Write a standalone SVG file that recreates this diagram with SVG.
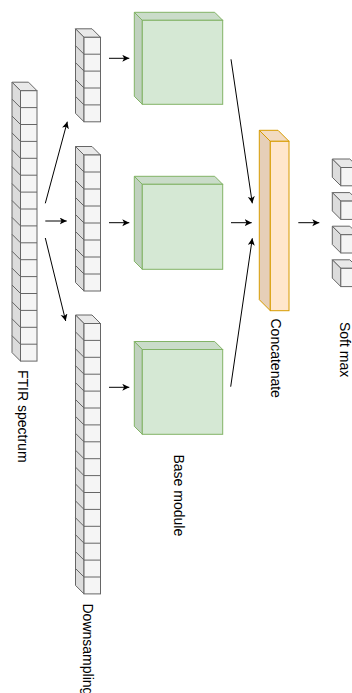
<svg xmlns="http://www.w3.org/2000/svg" width="352" height="693" viewBox="0 0 352 693">
<style>
.gf{fill:#f5f5f5;stroke:#666666;stroke-width:1}
.gt{fill:#e9e9e9;stroke:#666666;stroke-width:1;stroke-linejoin:round}
.gs{fill:#dcdcdc;stroke:#666666;stroke-width:1;stroke-linejoin:round}
.gl{fill:none;stroke:#666666;stroke-width:1}
.nf{fill:#d5e8d4;stroke:#82b366;stroke-width:1}
.nt{fill:#cadcc9;stroke:#82b366;stroke-width:1;stroke-linejoin:round}
.ns{fill:#c0d1bf;stroke:#82b366;stroke-width:1;stroke-linejoin:round}
.of{fill:#ffe6cc;stroke:#d79b00;stroke-width:1}
.ot{fill:#f2dbc2;stroke:#d79b00;stroke-width:1;stroke-linejoin:round}
.os{fill:#e6cfb8;stroke:#d79b00;stroke-width:1;stroke-linejoin:round}
.lbl{font-family:"Liberation Sans",Arial,Helvetica,sans-serif;font-size:14px;fill:#000000}
.edge{fill:none;stroke:#000000;stroke-width:1;marker-end:url(#arr)}
</style>
<defs>
<marker id="arr" markerUnits="userSpaceOnUse" markerWidth="8" markerHeight="8" refX="7" refY="3.5" orient="auto" viewBox="0 0 8 8">
<path d="M0,0 L7,3.5 L0,7 L1.8,3.5 z" fill="#000000" stroke="none"/>
</marker>
</defs>

<g id="ftir">
<polygon class="gt" points="12,82.2 28.5,82.2 37,90.7 20.5,90.7"/>
<polygon class="gs" points="12,82.2 20.5,90.7 20.5,361.1 12,352.6"/>
<rect class="gf" x="20.5" y="90.7" width="16.5" height="270.4"/>
<path class="gl" d="M20.5,107.6h16.5M20.5,124.5h16.5M20.5,141.4h16.5M20.5,158.3h16.5M20.5,175.2h16.5M20.5,192.1h16.5M20.5,209h16.5M20.5,225.9h16.5M20.5,242.8h16.5M20.5,259.7h16.5M20.5,276.6h16.5M20.5,293.5h16.5M20.5,310.4h16.5M20.5,327.3h16.5M20.5,344.2h16.5"/>
<path class="gl" d="M12,99.1l8.5,8.5M12,116l8.5,8.5M12,132.9l8.5,8.5M12,149.8l8.5,8.5M12,166.7l8.5,8.5M12,183.6l8.5,8.5M12,200.5l8.5,8.5M12,217.4l8.5,8.5M12,234.3l8.5,8.5M12,251.2l8.5,8.5M12,268.1l8.5,8.5M12,285l8.5,8.5M12,301.9l8.5,8.5M12,318.8l8.5,8.5M12,335.7l8.5,8.5"/>
<text class="lbl" transform="translate(18.3,370) rotate(90)">FTIR spectrum</text>
</g>

<g id="col1">
<polygon class="gt" points="75.5,28.8 92,28.8 100.5,37.3 84,37.3"/>
<polygon class="gs" points="75.5,28.8 84,37.3 84,121.8 75.5,113.3"/>
<rect class="gf" x="84" y="37.3" width="16.5" height="84.5"/>
<path class="gl" d="M84,54.2h16.5M84,71.1h16.5M84,88h16.5M84,104.9h16.5"/>
<path class="gl" d="M75.5,45.7l8.5,8.5M75.5,62.6l8.5,8.5M75.5,79.5l8.5,8.5M75.5,96.4l8.5,8.5"/>
</g>

<g id="col2">
<polygon class="gt" points="75.5,146.5 92,146.5 100.5,155 84,155"/>
<polygon class="gs" points="75.5,146.5 84,155 84,291 75.5,282.5"/>
<rect class="gf" x="84" y="155" width="16.5" height="136"/>
<path class="gl" d="M84,172h16.5M84,189h16.5M84,206h16.5M84,223h16.5M84,240h16.5M84,257h16.5M84,274h16.5"/>
<path class="gl" d="M75.5,163.5l8.5,8.5M75.5,180.5l8.5,8.5M75.5,197.5l8.5,8.5M75.5,214.5l8.5,8.5M75.5,231.5l8.5,8.5M75.5,248.5l8.5,8.5M75.5,265.5l8.5,8.5"/>
</g>

<g id="col3">
<polygon class="gt" points="75.5,315 92,315 100.5,323.5 84,323.5"/>
<polygon class="gs" points="75.5,315 84,323.5 84,593.9 75.5,585.4"/>
<rect class="gf" x="84" y="323.5" width="16.5" height="270.4"/>
<path class="gl" d="M84,340.4h16.5M84,357.3h16.5M84,374.2h16.5M84,391.1h16.5M84,408h16.5M84,424.9h16.5M84,441.8h16.5M84,458.7h16.5M84,475.6h16.5M84,492.5h16.5M84,509.4h16.5M84,526.3h16.5M84,543.2h16.5M84,560.1h16.5M84,577h16.5"/>
<path class="gl" d="M75.5,331.9l8.5,8.5M75.5,348.8l8.5,8.5M75.5,365.7l8.5,8.5M75.5,382.6l8.5,8.5M75.5,399.5l8.5,8.5M75.5,416.4l8.5,8.5M75.5,433.3l8.5,8.5M75.5,450.2l8.5,8.5M75.5,467.1l8.5,8.5M75.5,484l8.5,8.5M75.5,500.9l8.5,8.5M75.5,517.8l8.5,8.5M75.5,534.7l8.5,8.5M75.5,551.6l8.5,8.5M75.5,568.5l8.5,8.5"/>
<text class="lbl" transform="translate(83.3,603.5) rotate(90)">Downsampling</text>
</g>

<g id="base1">
<polygon class="nt" points="134.3,12.3 214.7,12.3 222.7,20.3 142.3,20.3"/>
<polygon class="ns" points="134.3,12.3 142.3,20.3 142.3,104.3 134.3,96.3"/>
<rect class="nf" x="142.3" y="20.3" width="80.4" height="84"/>
</g>

<g id="base2">
<polygon class="nt" points="134.3,176.3 214.7,176.3 222.7,184.3 142.3,184.3"/>
<polygon class="ns" points="134.3,176.3 142.3,184.3 142.3,269.3 134.3,261.3"/>
<rect class="nf" x="142.3" y="184.3" width="80.4" height="85"/>
</g>

<g id="base3">
<polygon class="nt" points="134.3,341.5 214.7,341.5 222.7,349.5 142.3,349.5"/>
<polygon class="ns" points="134.3,341.5 142.3,349.5 142.3,434.3 134.3,426.3"/>
<rect class="nf" x="142.3" y="349.5" width="80.4" height="84.8"/>
<text class="lbl" transform="translate(173.5,454.5) rotate(90)">Base module</text>
</g>

<g id="concat">
<polygon class="ot" points="259.3,130.3 278,130.3 289,141.3 270.3,141.3"/>
<polygon class="os" points="259.3,130.3 270.3,141.3 270.3,310.7 259.3,299.7"/>
<rect class="of" x="270.3" y="141.3" width="18.7" height="169.4"/>
<text class="lbl" transform="translate(271.3,318.5) rotate(90)">Concatenate</text>
</g>

<g id="softmax">
<g>
<polygon class="gt" points="332.3,159 349.8,159 358.3,167.5 340.8,167.5"/>
<polygon class="gs" points="332.3,159 340.8,167.5 340.8,185.8 332.3,177.3"/>
<rect class="gf" x="340.8" y="167.5" width="17.5" height="18.3"/>
</g>
<g>
<polygon class="gt" points="332.3,192.6 349.8,192.6 358.3,201.1 340.8,201.1"/>
<polygon class="gs" points="332.3,192.6 340.8,201.1 340.8,219.4 332.3,210.9"/>
<rect class="gf" x="340.8" y="201.1" width="17.5" height="18.3"/>
</g>
<g>
<polygon class="gt" points="332.3,226.2 349.8,226.2 358.3,234.7 340.8,234.7"/>
<polygon class="gs" points="332.3,226.2 340.8,234.7 340.8,253 332.3,244.5"/>
<rect class="gf" x="340.8" y="234.7" width="17.5" height="18.3"/>
</g>
<g>
<polygon class="gt" points="332.3,259.8 349.8,259.8 358.3,268.3 340.8,268.3"/>
<polygon class="gs" points="332.3,259.8 340.8,268.3 340.8,286.6 332.3,278.1"/>
<rect class="gf" x="340.8" y="268.3" width="17.5" height="18.3"/>
</g>
<text class="lbl" transform="translate(340,322) rotate(90)">Soft max</text>
</g>

<g id="connectors">
<line class="edge" x1="45.3" y1="203.3" x2="67.3" y2="121.7"/>
<line class="edge" x1="45.3" y1="221" x2="66.7" y2="221"/>
<line class="edge" x1="45.3" y1="238" x2="65.7" y2="321"/>
<line class="edge" x1="109" y1="58.3" x2="129.3" y2="58.3"/>
<line class="edge" x1="109" y1="222.7" x2="129.3" y2="222.7"/>
<line class="edge" x1="109" y1="387.3" x2="129.3" y2="387.3"/>
<line class="edge" x1="231" y1="59.3" x2="252.3" y2="203.3"/>
<line class="edge" x1="231" y1="222.7" x2="251.7" y2="222.7"/>
<line class="edge" x1="230.7" y1="386.7" x2="252.3" y2="238.3"/>
<line class="edge" x1="298.3" y1="222.7" x2="319.3" y2="222.7"/>
</g>
</svg>
